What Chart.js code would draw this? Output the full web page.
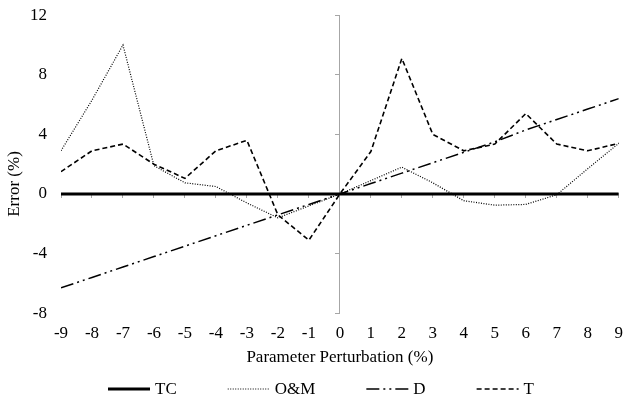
<!DOCTYPE html>
<html>
<head>
<meta charset="utf-8">
<script src="https://cdn.jsdelivr.net/npm/chart.js@4/dist/chart.umd.min.js"></script>
<style>
  html, body { margin: 0; padding: 0; background: #fff; }
  #wrap { width: 623px; height: 400px; }
</style>
</head>
<body>
<div id="wrap"><canvas id="chart"></canvas></div>
<script>
// ── data ──
const perturbation = [-9, -8, -7, -6, -5, -4, -3, -2, -1, 0, 1, 2, 3, 4, 5, 6, 7, 8, 9];
const tcErr  = [0, 0, 0, 0, 0, 0, 0, 0, 0, 0, 0, 0, 0, 0, 0, 0, 0, 0, 0];
const omErr  = [2.9, 6.3, 10.0, 1.9, 0.75, 0.5, -0.6, -1.6, -0.8, 0, 0.9, 1.8, 0.75, -0.45, -0.75, -0.7, -0.05, 1.7, 3.4];
const dErr   = [-6.3, -5.6, -4.9, -4.2, -3.5, -2.8, -2.1, -1.4, -0.7, 0, 0.7, 1.4, 2.1, 2.8, 3.5, 4.3, 5.0, 5.7, 6.4];
const tErr   = [1.5, 2.9, 3.35, 2.0, 1.05, 2.9, 3.6, -1.4, -3.1, 0, 2.85, 9.1, 4.0, 2.9, 3.35, 5.4, 3.35, 2.9, 3.4];
const seriesNames = ["TC", "O&M", "D", "T"];
const xTitle = "Parameter Perturbation (%)";
const yTitle = "Error (%)";

const AXIS_GREY = "#a6a6a6";
const FAMILY = "'Liberation Serif', 'Times New Roman', serif";
const FONT = { family: FAMILY, size: 17 };

const pts = vals => perturbation.map((x, i) => ({ x, y: vals[i] }));

const line = (label, vals, width, dash) => ({
  label, data: pts(vals),
  borderColor: "#000", backgroundColor: "#000",
  borderWidth: width, borderDash: dash,
  pointRadius: 0, tension: 0, fill: false
});

// legend row + y title drawn by hand (Excel-style spacing the stock legend can't do)
const excelBits = {
  id: "excelBits",
  afterDraw(chart) {
    const ctx = chart.ctx;
    const lineLen = 42, textGap = 5, itemGap = 51, y = 389, centre = 321;
    ctx.save();
    ctx.font = `17px ${FAMILY}`;
    ctx.fillStyle = "#000";
    ctx.strokeStyle = "#000";
    ctx.textBaseline = "middle";
    const sets = chart.data.datasets;
    const widths = sets.map(ds => lineLen + textGap + ctx.measureText(ds.label).width);
    const total = widths.reduce((a, b) => a + b, 0) + itemGap * (sets.length - 1);
    let x = centre - total / 2;
    sets.forEach((ds, i) => {
      ctx.lineWidth = ds.borderWidth;
      ctx.setLineDash(ds.borderDash || []);
      ctx.beginPath();
      ctx.moveTo(x, y);
      ctx.lineTo(x + lineLen, y);
      ctx.stroke();
      ctx.fillText(ds.label, x + lineLen + textGap, y + 1);
      x += widths[i] + itemGap;
    });
    // y axis title
    ctx.translate(15, 184);
    ctx.rotate(-Math.PI / 2);
    ctx.textAlign = "center";
    ctx.fillText(yTitle, 0, 0);
    ctx.restore();
  }
};

new Chart(document.getElementById("chart"), {
  type: "line",
  data: {
    datasets: [
      line(seriesNames[0], tcErr, 3, []),
      line(seriesNames[1], omErr, 1.2, [1, 1.5]),
      line(seriesNames[2], dErr, 1.5, [13, 4, 2, 4, 2, 4]),
      line(seriesNames[3], tErr, 1.6, [5, 3])
    ]
  },
  plugins: [excelBits],
  options: {
    responsive: true, maintainAspectRatio: false, animation: false,
    layout: { padding: { left: 25, right: 0, top: 0, bottom: 32 } },
    plugins: {
      tooltip: { enabled: false },
      legend: { display: false }
    },
    scales: {
      x: {
        type: "linear", min: -9, max: 9,
        ticks: { stepSize: 1, color: "#000", font: FONT, padding: 0 },
        grid: { display: false, drawTicks: true, tickLength: 10 },
        border: { display: false },
        title: { display: true, text: xTitle, color: "#000", font: FONT, padding: { top: 4, bottom: 0 } }
      },
      y: {
        type: "linear", min: -8, max: 12,
        ticks: { stepSize: 4, color: "#000", font: FONT, padding: 5 },
        grid: { display: false, drawTicks: true, tickLength: 9 },
        border: { display: false }
      },
      x0: {
        axis: "x", type: "linear", min: -9, max: 9, position: { y: 0 },
        ticks: { stepSize: 1, display: false },
        grid: { drawOnChartArea: false, drawTicks: true, tickLength: 4, color: AXIS_GREY },
        border: { color: AXIS_GREY }
      },
      y0: {
        axis: "y", type: "linear", min: -8, max: 12, position: { x: 0 },
        ticks: { stepSize: 4, display: false },
        grid: { drawOnChartArea: false, drawTicks: true, tickLength: 4, color: AXIS_GREY },
        border: { color: AXIS_GREY }
      }
    }
  }
});
</script>
</body>
</html>
